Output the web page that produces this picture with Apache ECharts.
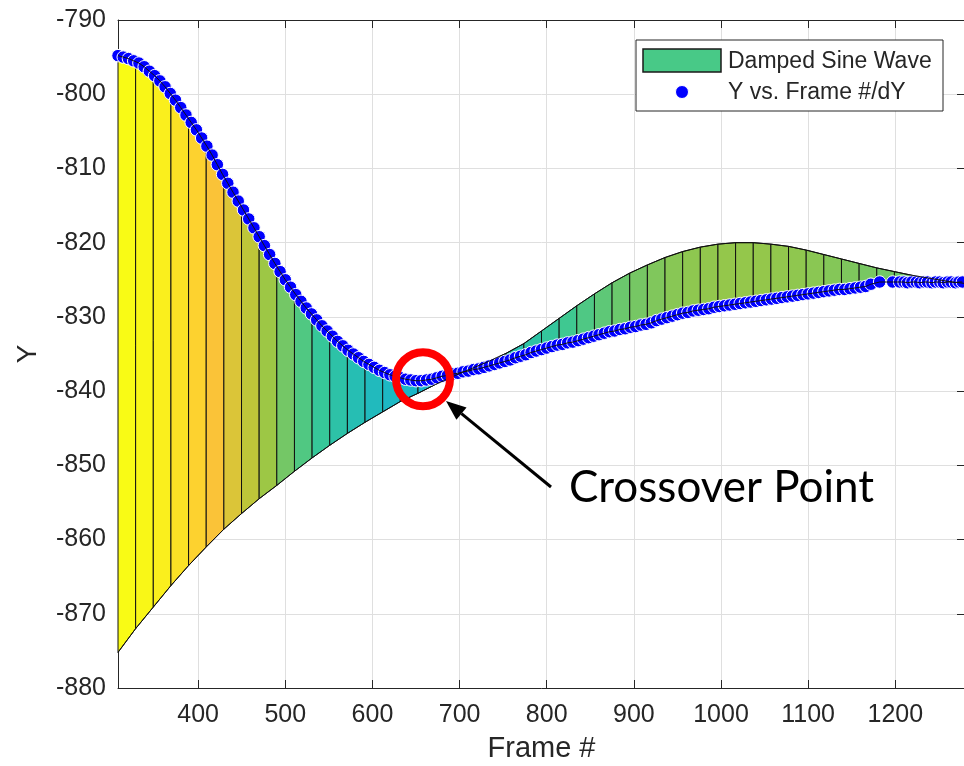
<!DOCTYPE html>
<html>
<head>
<meta charset="utf-8">
<script src="https://cdn.jsdelivr.net/npm/echarts@6/dist/echarts.min.js"></script>
<style>
  html, body { margin: 0; padding: 0; background: #ffffff; }
  #chart { width: 964px; height: 766px; }
</style>
</head>
<body>
<div id="chart"></div>
<script>
// Tracked vertical position (Y) for each frame: the blue markers
const frames = [
  308, 314, 320, 326, 332, 338, 344, 350, 356, 362,
  368, 374, 380, 386, 392, 398, 404, 410, 416, 422,
  428, 434, 440, 446, 452, 458, 464, 470, 476, 482,
  488, 494, 500, 506, 512, 518, 524, 530, 536, 542,
  548, 554, 560, 566, 572, 578, 584, 590, 596, 602,
  608, 614, 620, 626, 632, 638, 644, 650, 656, 662,
  668, 674, 680, 686, 692, 698, 704, 710, 716, 722,
  728, 734, 740, 746, 752, 758, 764, 770, 776, 782,
  788, 794, 800, 806, 812, 818, 824, 830, 836, 842,
  848, 854, 860, 866, 872, 878, 884, 890, 896, 902,
  908, 914, 920, 926, 932, 938, 944, 950, 956, 962,
  968, 974, 980, 986, 992, 998, 1004, 1010, 1016, 1022,
  1028, 1034, 1040, 1046, 1052, 1058, 1064, 1070, 1076, 1082,
  1088, 1094, 1100, 1106, 1112, 1118, 1124, 1130, 1136, 1142,
  1148, 1154, 1160, 1166,
  1172, 1182, 1197, 1205, 1210, 1214, 1219, 1224, 1228, 1233,
  1237, 1242, 1246, 1251, 1255, 1260, 1264, 1269, 1273, 1277
];
const yValues = [
  -794.8, -795.0, -795.2, -795.5, -795.8, -796.3, -796.9, -797.5, -798.2, -799.0,
  -799.9, -800.8, -801.8, -802.8, -803.8, -804.8, -805.9, -807.0, -808.2, -809.5,
  -810.8, -812.0, -813.2, -814.4, -815.6, -816.8, -818.0, -819.2, -820.4, -821.6,
  -822.8, -823.9, -825.0, -826.0, -827.0, -827.9, -828.8, -829.6, -830.4, -831.2,
  -831.9, -832.6, -833.3, -833.9, -834.5, -835.0, -835.5, -836.0, -836.4, -836.8,
  -837.2, -837.5, -837.8, -838.0, -838.2, -838.4, -838.5, -838.6, -838.6, -838.5,
  -838.4, -838.2, -838.0, -837.9, -837.7, -837.6, -837.4, -837.3, -837.1, -837.0,
  -836.8, -836.6, -836.4, -836.2, -836.0, -835.8, -835.5, -835.3, -835.1, -834.8,
  -834.6, -834.4, -834.2, -834.0, -833.8, -833.7, -833.5, -833.4, -833.2, -833.0,
  -832.8, -832.6, -832.4, -832.2, -832.0, -831.9, -831.7, -831.6, -831.4, -831.3,
  -831.1, -831.0, -830.8, -830.5, -830.3, -830.1, -829.9, -829.7, -829.5, -829.4,
  -829.2, -829.1, -829.0, -828.9, -828.7, -828.6, -828.5, -828.4, -828.3, -828.2,
  -828.1, -828.0, -827.9, -827.8, -827.7, -827.6, -827.5, -827.4, -827.3, -827.2,
  -827.1, -827.0, -826.9, -826.8, -826.7, -826.6, -826.5, -826.4, -826.3, -826.3,
  -826.2, -826.1, -826.0, -825.9,
  -825.6, -825.3, -825.3, -825.3, -825.3, -825.4, -825.3, -825.3, -825.4, -825.3,
  -825.3, -825.4, -825.3, -825.3, -825.4, -825.3, -825.3, -825.4, -825.3, -825.3
];

// Damped sine reference curve, sampled at the fill strip boundaries
const sineFrames = [
  308, 328.25, 348.5, 368.75, 389, 409.25, 429.5, 449.75, 470, 490.25,
  510.5, 530.75, 551, 571.25, 591.5, 611.75, 632, 652.25, 672.5, 692.75,
  713, 733.25, 753.5, 773.75, 794, 814.25, 834.5, 854.75, 875, 895.25,
  915.5, 935.75, 956, 976.25, 996.5, 1016.75, 1037, 1057.25, 1077.5, 1097.75,
  1118, 1138.25, 1158.5, 1178.75, 1199, 1219.25, 1239.5, 1259.75, 1280
];
const sineValues = [
  -875.2, -872.0, -869.1, -866.2, -863.5, -861.0, -858.6, -856.5, -854.5, -852.7,
  -850.8, -849.0, -847.3, -845.7, -844.2, -842.8, -841.4, -840.3, -839.1, -838.0,
  -837.0, -836.0, -834.9, -833.6, -831.9, -830.2, -828.5, -826.9, -825.4, -824.1,
  -823.0, -822.0, -821.2, -820.6, -820.2, -820.0, -820.0, -820.2, -820.5, -821.0,
  -821.6, -822.2, -822.8, -823.4, -823.9, -824.4, -824.8, -825.2, -825.5
];

const seriesNames = ['Damped Sine Wave', 'Y vs. Frame #/dY'];
const annotationText = 'Crossover Point';
const crossover = [658, -838.4];

// parula-style colormap stops
const parula = ['#3E26A8', '#4852F4', '#2E87F7', '#12B1D6', '#37C897', '#ABC739', '#FEC338', '#F9FB15'];

const FONT = '"Liberation Sans", Arial, Helvetica, sans-serif';
const INK = '#262626';

// Y of the tracked curve at an arbitrary frame (for strip corners)
function trackedAt(x) {
  if (x <= frames[0]) return yValues[0];
  const n = frames.length;
  if (x >= frames[n - 1]) return yValues[n - 1];
  for (let i = 0; i < n - 1; i++) {
    if (x >= frames[i] && x <= frames[i + 1]) {
      const f = (x - frames[i]) / (frames[i + 1] - frames[i]);
      return yValues[i] + f * (yValues[i + 1] - yValues[i]);
    }
  }
  return yValues[n - 1];
}

// One quad per strip between the two curves; last field drives the colour
const strips = [];
for (let k = 0; k < sineFrames.length - 1; k++) {
  const x0 = sineFrames[k], x1 = sineFrames[k + 1];
  const d0 = trackedAt(x0), d1 = trackedAt(x1);
  const s0 = sineValues[k], s1 = sineValues[k + 1];
  strips.push([x0, x1, d0, d1, s0, s1, Math.max(d0, d1, s0, s1)]);
}
const allY = yValues.concat(sineValues);
const cMin = Math.min.apply(null, allY);
const cMax = Math.max.apply(null, allY);

const points = frames.map((f, i) => [f, yValues[i]]);
const sinePoints = sineFrames.map((f, i) => [f, sineValues[i]]);

const chart = echarts.init(document.getElementById('chart'));

const axisTickStyle = { inside: true, length: 8, lineStyle: { color: INK, width: 1 } };
const axisLineStyle = { show: true, lineStyle: { color: INK, width: 1 } };

// arrow from the annotation text to the crossover ring
const tail = [551, 487], tip = [446, 401];
const dx = tip[0] - tail[0], dy = tip[1] - tail[1];
const len = Math.sqrt(dx * dx + dy * dy);
const ux = dx / len, uy = dy / len;
const headLen = 20, headHalf = 8;
const bx = tip[0] - headLen * ux, by = tip[1] - headLen * uy;
const head = [tip, [bx - headHalf * uy, by + headHalf * ux], [bx + headHalf * uy, by - headHalf * ux]];

const option = {
  animation: false,
  backgroundColor: '#ffffff',
  grid: { left: 118, top: 20, width: 847, height: 668, containLabel: false, outerBoundsMode: 'none' },
  xAxis: [{
    type: 'value', min: 308, max: 1280, splitNumber: 10,
    name: 'Frame #', nameLocation: 'middle', nameGap: 46,
    nameTextStyle: { fontSize: 29, color: INK, fontFamily: FONT },
    axisLine: axisLineStyle, axisTick: axisTickStyle,
    axisLabel: {
      fontSize: 25, color: INK, fontFamily: FONT, margin: 15,
      showMinLabel: false, showMaxLabel: false,
      formatter: function (v) { return String(v); }
    },
    splitLine: { show: true, lineStyle: { color: '#DFDFDF', width: 1 } }
  }, {
    type: 'value', position: 'top', min: 308, max: 1280, splitNumber: 10,
    axisLine: axisLineStyle, axisTick: axisTickStyle,
    axisLabel: { show: false }, splitLine: { show: false }
  }],
  yAxis: [{
    type: 'value', min: -880, max: -790, interval: 10,
    name: 'Y', nameLocation: 'middle', nameGap: 76,
    nameTextStyle: { fontSize: 28, color: INK, fontFamily: FONT },
    axisLine: axisLineStyle, axisTick: axisTickStyle,
    axisLabel: { fontSize: 25, color: INK, fontFamily: FONT, margin: 12 },
    splitLine: { show: true, lineStyle: { color: '#DFDFDF', width: 1 } }
  }, {
    type: 'value', position: 'right', min: -880, max: -790, interval: 10,
    axisLine: axisLineStyle, axisTick: axisTickStyle,
    axisLabel: { show: false }, splitLine: { show: false }
  }],
  visualMap: {
    type: 'continuous', show: false, seriesIndex: 0, dimension: 6,
    min: cMin, max: cMax, inRange: { color: parula }
  },
  series: [{
    name: seriesNames[0],
    type: 'custom',
    z: 2,
    data: strips,
    renderItem: function (params, api) {
      const x0 = api.value(0), x1 = api.value(1);
      const pts = [
        api.coord([x0, api.value(2)]),
        api.coord([x1, api.value(3)]),
        api.coord([x1, api.value(5)]),
        api.coord([x0, api.value(4)])
      ];
      return {
        type: 'polygon',
        shape: { points: pts },
        style: { fill: api.visual('color'), stroke: '#111111', lineWidth: 1 }
      };
    }
  }, {
    name: seriesNames[1],
    type: 'scatter',
    z: 3,
    clip: false,
    data: points,
    symbol: 'circle',
    symbolSize: 12.5,
    itemStyle: { color: '#0000FF', borderColor: '#ffffff', borderWidth: 1, opacity: 1 },
    markPoint: {
      silent: true,
      symbol: 'circle',
      symbolSize: 54,
      label: { show: false },
      itemStyle: { color: 'rgba(0,0,0,0)', borderColor: '#FF0000', borderWidth: 8 },
      data: [{ coord: crossover }]
    }
  }, {
    type: 'line', z: 4, data: points, showSymbol: false, symbol: 'none',
    lineStyle: { color: '#111111', width: 1 }, silent: true
  }, {
    type: 'line', z: 4, data: sinePoints, showSymbol: false, symbol: 'none',
    lineStyle: { color: '#111111', width: 1 }, silent: true
  }],
  graphic: [
    { type: 'rect', z: 100, shape: { x: 636, y: 40, width: 307, height: 71 },
      style: { fill: '#ffffff', stroke: INK, lineWidth: 1 } },
    { type: 'rect', z: 101, shape: { x: 643, y: 49, width: 78, height: 23 },
      style: { fill: '#48C987', stroke: '#1a1a1a', lineWidth: 1.5 } },
    { type: 'text', z: 101, x: 728, y: 62,
      style: { text: seriesNames[0], fontSize: 23, fontFamily: FONT, fill: INK, verticalAlign: 'middle' } },
    { type: 'circle', z: 101, shape: { cx: 682, cy: 92, r: 6.5 },
      style: { fill: '#0000FF', stroke: '#ffffff', lineWidth: 1 } },
    { type: 'text', z: 101, x: 728, y: 93,
      style: { text: seriesNames[1], fontSize: 23, fontFamily: FONT, fill: INK, verticalAlign: 'middle' } },
    { type: 'text', z: 100, x: 569, y: 488,
      style: { text: annotationText, fontSize: 44, fontFamily: 'Lato, "Open Sans", sans-serif', fill: '#000000', verticalAlign: 'middle' } },
    { type: 'line', z: 100, shape: { x1: tail[0], y1: tail[1], x2: bx, y2: by },
      style: { stroke: '#000000', lineWidth: 3 } },
    { type: 'polygon', z: 100, shape: { points: head }, style: { fill: '#000000' } }
  ]
};

chart.setOption(option);
</script>
</body>
</html>
